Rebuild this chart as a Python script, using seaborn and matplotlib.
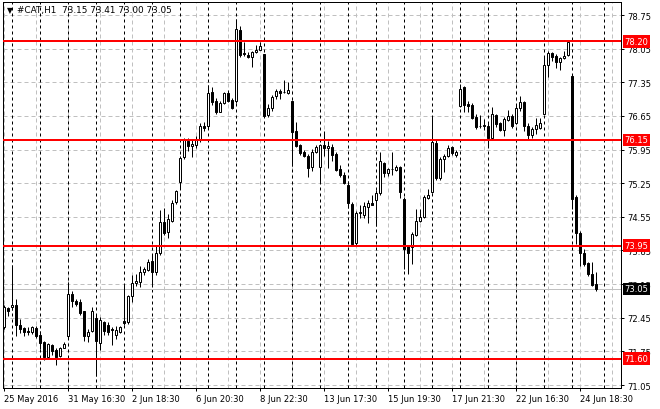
import matplotlib
matplotlib.use("Agg")
import matplotlib.pyplot as plt
import seaborn as sns
import numpy as np
import pandas as pd

symbol = "#CAT,H1"

opens = [72.26, 72.65, 72.68, 72.72, 72.30, 72.24, 72.17, 72.16, 72.23, 72.09,
         71.95, 71.64, 71.89, 71.78, 71.66, 71.83, 72.06, 72.94, 72.80, 72.78,
         72.59, 72.06, 72.17, 72.44, 71.92, 72.36, 72.30, 72.22, 72.09, 72.15,
         72.39, 72.36, 72.90, 73.17, 73.19, 73.40, 73.45, 73.63, 73.40, 73.80,
         74.44, 74.24, 74.47, 74.85, 75.28, 75.79, 76.13, 76.02, 76.04, 76.17,
         76.43, 76.43, 77.14, 76.95, 76.74, 76.91, 77.12, 76.98, 76.95, 78.44,
         77.96, 77.92, 77.87, 77.97, 78.03, 77.94, 76.67, 76.81, 77.06, 77.16,
         77.15, 77.12, 76.95, 76.33, 76.04, 75.89, 75.82, 75.58, 75.89, 75.59,
         76.04, 75.98, 76.00, 75.86, 75.55, 75.43, 75.21, 74.82, 74.00, 74.63,
         74.59, 74.76, 74.84, 74.91, 75.04, 75.68, 75.46, 75.55, 75.53, 75.58,
         74.92, 73.95, 73.93, 74.17, 74.47, 74.54, 74.94, 75.07, 76.09, 75.35,
         75.75, 75.81, 76.00, 75.84, 76.86, 77.25, 76.90, 76.88, 76.63, 76.45,
         76.47, 76.45, 76.18, 76.67, 76.50, 76.36, 76.57, 76.65, 76.50, 76.81,
         76.93, 76.43, 76.25, 76.38, 76.40, 76.70, 77.70, 77.96, 77.89, 77.77,
         77.85, 77.92, 77.49, 74.96, 74.21, 73.80, 73.59, 73.36, 73.15]
highs = [72.72, 72.67, 73.55, 72.84, 72.42, 72.26, 72.26, 72.28, 72.27, 72.17,
         71.97, 71.92, 71.91, 71.82, 71.85, 71.94, 73.19, 73.01, 72.84, 72.84,
         72.60, 72.21, 72.67, 72.51, 72.46, 72.39, 72.36, 72.26, 72.27, 72.28,
         73.16, 72.93, 73.33, 73.36, 73.53, 73.51, 73.67, 73.78, 73.95, 74.69,
         74.73, 74.61, 74.89, 75.11, 75.82, 76.20, 76.18, 76.15, 76.23, 76.50,
         76.52, 77.29, 77.25, 77.02, 76.95, 77.14, 77.19, 77.02, 78.67, 78.53,
         78.18, 77.97, 78.00, 78.13, 78.18, 77.94, 76.90, 77.08, 77.22, 77.22,
         77.40, 77.36, 76.96, 76.53, 76.07, 75.94, 75.86, 75.96, 76.04, 76.07,
         76.33, 76.13, 76.07, 75.89, 75.62, 75.48, 75.30, 74.86, 74.68, 74.80,
         74.85, 74.89, 75.00, 75.10, 75.89, 75.70, 75.56, 75.89, 75.63, 75.61,
         74.96, 73.96, 74.23, 74.71, 74.71, 75.00, 75.13, 76.62, 76.14, 75.79,
         75.86, 76.04, 76.03, 75.95, 77.31, 77.27, 76.95, 76.92, 76.69, 76.67,
         76.59, 76.50, 76.84, 76.69, 76.53, 76.62, 76.77, 76.69, 76.90, 77.06,
         76.96, 76.50, 76.41, 76.60, 76.60, 77.90, 78.00, 77.99, 77.94, 77.87,
         78.01, 78.22, 77.52, 75.00, 74.25, 73.88, 73.62, 73.62, 73.41]
lows = [72.22, 72.49, 72.62, 72.07, 72.13, 72.08, 72.09, 72.11, 72.03, 71.80,
        71.56, 71.61, 71.67, 71.47, 71.63, 71.82, 72.03, 72.67, 72.69, 72.51,
        71.97, 71.95, 72.15, 71.24, 71.78, 72.09, 72.09, 71.89, 72.00, 72.13,
        72.30, 72.32, 72.77, 73.11, 73.09, 73.33, 73.42, 73.08, 73.34, 73.76,
        74.17, 74.10, 74.44, 74.82, 75.13, 75.75, 75.93, 75.79, 75.98, 76.11,
        76.34, 76.38, 76.88, 76.69, 76.73, 76.90, 76.94, 76.79, 76.92, 77.88,
        77.90, 77.86, 77.66, 77.96, 78.02, 76.63, 76.63, 76.76, 77.00, 77.00,
        77.13, 77.11, 75.61, 76.00, 75.84, 75.80, 75.37, 75.51, 75.88, 75.27,
        75.81, 75.56, 75.72, 75.50, 75.38, 75.23, 74.73, 73.95, 73.96, 74.52,
        74.53, 74.42, 74.80, 74.36, 75.00, 75.38, 75.39, 75.41, 75.50, 74.94,
        73.46, 73.36, 73.57, 74.15, 74.44, 74.53, 74.92, 75.05, 75.32, 75.32,
        75.49, 75.80, 75.84, 75.79, 76.84, 76.74, 76.73, 76.59, 76.38, 76.39,
        76.36, 76.00, 76.17, 76.42, 76.34, 76.23, 76.55, 76.40, 76.48, 76.75,
        76.34, 76.17, 76.20, 76.27, 76.38, 76.69, 77.45, 77.80, 77.64, 77.61,
        77.83, 77.90, 74.71, 73.98, 73.52, 73.53, 73.32, 73.11, 73.00]
closes = [72.67, 72.59, 72.72, 72.30, 72.22, 72.15, 72.15, 72.26, 72.06, 71.93,
          71.63, 71.90, 71.76, 71.63, 71.82, 71.90, 72.94, 72.80, 72.74, 72.55,
          72.06, 72.16, 72.58, 71.97, 72.40, 72.18, 72.15, 72.19, 72.19, 72.25,
          72.34, 72.90, 73.17, 73.22, 73.41, 73.46, 73.61, 73.41, 73.80, 74.44,
          74.21, 74.50, 74.84, 75.09, 75.77, 76.15, 76.02, 76.07, 76.15, 76.43,
          76.39, 77.13, 76.93, 76.73, 76.91, 77.12, 76.97, 76.81, 78.46, 77.92,
          77.94, 77.87, 77.97, 78.03, 78.11, 76.64, 76.81, 77.04, 77.16, 77.13,
          77.14, 77.18, 76.32, 76.02, 75.88, 75.82, 75.57, 75.89, 76.00, 76.04,
          75.98, 76.03, 75.84, 75.53, 75.41, 75.25, 74.83, 73.98, 74.63, 74.65,
          74.77, 74.84, 74.80, 75.05, 75.72, 75.46, 75.55, 75.54, 75.58, 75.06,
          73.88, 73.80, 74.19, 74.47, 74.54, 74.96, 75.00, 76.10, 75.36, 75.75,
          75.82, 75.98, 75.87, 75.89, 77.22, 76.88, 76.86, 76.61, 76.41, 76.43,
          76.43, 76.18, 76.69, 76.48, 76.36, 76.59, 76.64, 76.43, 76.81, 76.93,
          76.43, 76.25, 76.38, 76.47, 76.50, 77.71, 77.96, 77.88, 77.77, 77.85,
          77.90, 78.18, 74.92, 74.21, 73.80, 73.57, 73.35, 73.13, 73.05]

date_labels = ["25 May 2016", "31 May 16:30", "2 Jun 18:30", "6 Jun 20:30",
               "8 Jun 22:30", "13 Jun 17:30", "15 Jun 19:30", "17 Jun 21:30",
               "22 Jun 16:30", "24 Jun 18:30"]
price_ticks = [78.75, 78.05, 77.35, 76.65, 75.95, 75.25, 74.55, 73.85,
               73.15, 72.45, 71.75, 71.05]
red_levels = [78.20, 76.15, 73.95, 71.60]
bid_price = 73.05

df = pd.DataFrame({"open": opens, "high": highs, "low": lows, "close": closes})
df["bar"] = np.arange(len(df))
df["bull"] = df["close"] >= df["open"]
df["bottom"] = df[["open", "close"]].min(axis=1)
df["height"] = (df["close"] - df["open"]).abs()

sns.set_theme(style="white")
plt.rcParams['font.family'] = ['DejaVu Sans']
plt.rcParams['axes.edgecolor'] = 'black'
plt.rcParams['axes.linewidth'] = 0.72

W, H = 660, 410
fig = plt.figure(figsize=(6.6, 4.1), dpi=100)
left_px, right_px, top_px, bot_px = 2.7, 621.0, 2.7, 389.3
ax = fig.add_axes([left_px / W, (H - bot_px) / H, (right_px - left_px) / W, (bot_px - top_px) / H])
ax.set_facecolor('white')

px_per_bar = 4.0
x0 = 3.5
ax.set_xlim((left_px - x0) / px_per_bar, (right_px - x0) / px_per_bar)
ppu = 370 / 7.7  # px per price unit
ax.set_ylim(78.75 - (bot_px - 16) / ppu, 78.75 + (16 - top_px) / ppu)

lw1 = 0.72
grey = '#c0c0c0'
# grid
for p in price_ticks:
    ax.axhline(p, color=grey, lw=lw1, ls=(0, (4, 3)), zorder=1)
for b in range(0, 153, 8):
    ax.axvline(b, color=grey, lw=lw1, ls=(0, (4, 3)), zorder=1)
# day separators
for b in list(range(2, 149, 7)) + [150]:
    ax.axvline(b, color='black', lw=lw1, ls=(0, (3, 3)), zorder=1.5)
# bid line
ax.axhline(bid_price, color=grey, lw=lw1, zorder=1.6)

# candles
ax.vlines(df["bar"], df["low"], df["high"], color='black', lw=lw1, zorder=3)
ax.bar(df["bar"], df["height"], bottom=df["bottom"], width=0.5,
       color=np.where(df["bull"], 'white', 'black'), edgecolor='black',
       linewidth=lw1, zorder=4)

# red horizontal levels
for p in red_levels:
    ax.axhline(p, color='#ff0000', lw=1.44, zorder=5)

# axes ticks
ax.yaxis.tick_right()
ax.set_yticks(price_ticks)
ax.set_yticklabels([f"{p:.2f}" for p in price_ticks])
ax.set_xticks(np.arange(0, 16 * len(date_labels), 16))
ax.set_xticklabels(date_labels)
for t in ax.get_xticklabels():
    t.set_ha('left')
ax.tick_params(axis='both', which='both', direction='out', length=2.5, width=lw1,
               color='black', labelsize=6, labelcolor='black', pad=1.5)
ax.tick_params(axis='y', right=True, left=False, pad=2)
ax.tick_params(axis='x', bottom=True, pad=1.5)
ax.grid(False)
for s in ax.spines.values():
    s.set_visible(True)
    s.set_color('black')
    s.set_linewidth(lw1)

# price labels on right axis
ytr = ax.get_yaxis_transform()
for p in red_levels:
    ax.text(1.006, p, f"{p:.2f}", transform=ytr, ha='left', va='center',
            color='white', fontsize=6, zorder=20, clip_on=False,
            bbox=dict(boxstyle='square,pad=0.2', fc='#ff0000', ec='none'))
ax.text(1.006, bid_price, f"{bid_price:.2f}", transform=ytr, ha='left', va='center',
        color='white', fontsize=6, zorder=20, clip_on=False,
        bbox=dict(boxstyle='square,pad=0.2', fc='black', ec='none'))

# title
last = df.iloc[-1]
fig.text(6.5 / W, 1 - 10.5 / H, "\u25BC", fontsize=5.5, ha='left', va='center', color='black')
fig.text(17 / W, 1 - 10.7 / H,
         f"{symbol}  {last['open']:.2f} {last['high']:.2f} {last['low']:.2f} {last['close']:.2f}",
         fontsize=6.4, ha='left', va='center', color='black')

fig.savefig("out.png", dpi=100, facecolor='white')
